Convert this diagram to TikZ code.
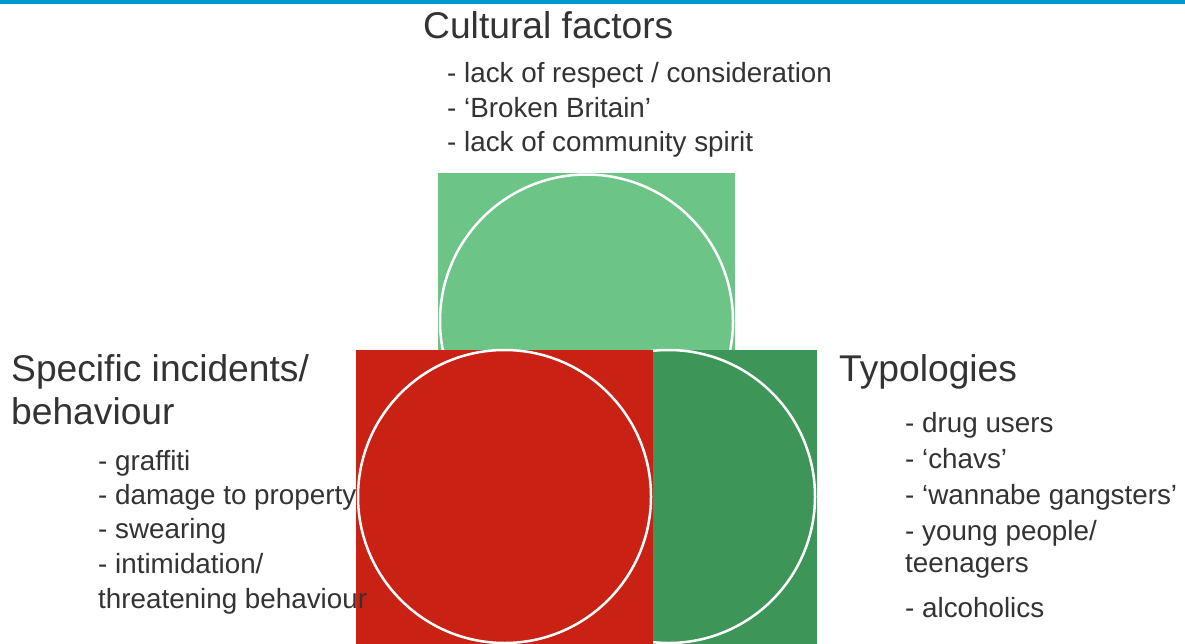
\documentclass[tikz,border=0pt]{standalone}
\usepackage{fontspec}
\setmainfont{Liberation Sans}
\definecolor{topblue}{RGB}{0,153,204}
\definecolor{lightg}{RGB}{108,197,134}
\definecolor{darkg}{RGB}{61,150,87}
\definecolor{redc}{RGB}{201,33,20}
\definecolor{txt}{RGB}{51,51,51}
\tikzset{
  head/.style={anchor=base west, inner sep=0pt, text=txt, font=\fontsize{37.2}{44}\selectfont},
  item/.style={anchor=base west, inner sep=0pt, text=txt, font=\fontsize{27.8}{32}\selectfont},
  ring/.style={draw=white, line width=2.5pt},
}
\begin{document}
\begin{tikzpicture}[x=1pt,y=-1pt]
\useasboundingbox (0,0) rectangle (1185,643);
\clip (0,0) rectangle (1185,643);
\fill[white] (0,0) rectangle (1185,643);
\fill[topblue] (0,0) rectangle (1185,4);
% top (light green)
\fill[lightg] (438,173) rectangle (735,470);
\node[circle, ring, fill=lightg, minimum size=293pt, inner sep=0pt] (cc) at (586.5,321) {};
% right (dark green)
\fill[darkg] (520,350) rectangle (817,647);
\node[circle, ring, fill=darkg, minimum size=293pt, inner sep=0pt] (tc) at (668.5,496.5) {};
% left (red)
\fill[redc] (356,350) rectangle (653,647);
\node[circle, ring, fill=redc, minimum size=293pt, inner sep=0pt] (sc) at (504.5,496.5) {};
% texts
\node[head] (h1) at (423,38) {Cultural factors};
\node[item] (c1) at (447,82) {- lack of respect / consideration};
\node[item] (c2) at (447,117) {- ‘Broken Britain’};
\node[item] (c3) at (447,151) {- lack of community spirit};
\node[head] (h2) at (11,381) {Specific incidents/};
\node[head] (h2b) at (11,424) {behaviour};
\node[item] (s1) at (98,470) {- graffiti};
\node[item] (s2) at (98,504) {- damage to property};
\node[item] (s3) at (98,538) {- swearing};
\node[item] (s4) at (98,573) {- intimidation/};
\node[item] (s5) at (98,608) {threatening behaviour};
\node[head] (h3) at (839,381) {Typologies};
\node[item] (t1) at (905,432) {- drug users};
\node[item] (t2) at (905,468) {- ‘chavs’};
\node[item] (t3) at (905,504) {- ‘wannabe gangsters’};
\node[item] (t4) at (905,540) {- young people/};
\node[item] (t5) at (905,572) {teenagers};
\node[item] (t6) at (905,617) {- alcoholics};
\end{tikzpicture}
\end{document}
